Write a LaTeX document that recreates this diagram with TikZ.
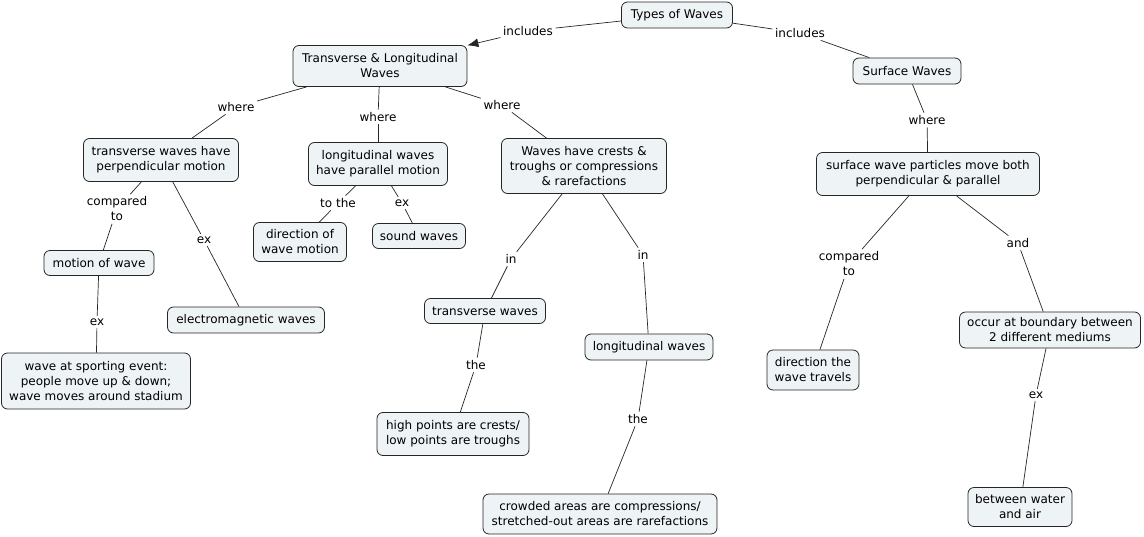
\documentclass[tikz,border=0pt]{standalone}
\usepackage{fontspec}
\setmainfont{DejaVu Sans}
\usetikzlibrary{arrows.meta}
\definecolor{boxfill}{HTML}{EEF3F5}
\begin{document}
\begin{tikzpicture}[x=1pt,y=-1pt,
 box/.style={draw=black!85, fill=boxfill, rounded corners=6pt, align=center, inner sep=0pt, font=\fontsize{12}{15}\selectfont, line width=0.8pt},
 sz/.style 2 args={minimum width=#1pt, minimum height=#2pt},
 lab/.style={inner sep=2.5pt, align=center, font=\fontsize{12}{15}\selectfont},
 conn/.style={draw=black!85, line width=0.7pt}]
\useasboundingbox (0,0) rectangle (1144,536);
% concepts
\node[box, sz={111}{26}] (types) at (677,15) {Types of Waves};
\node[box, sz={174}{41}] (tl) at (380,66) {Transverse \& Longitudinal\\Waves};
\node[box, sz={108}{26}] (surf) at (907,71) {Surface Waves};
\node[box, sz={155}{43}] (tp) at (161,160) {transverse waves have\\perpendicular motion};
\node[box, sz={139}{43}] (lp) at (378,164) {longitudinal waves\\have parallel motion};
\node[box, sz={165}{55}] (crest) at (584,166) {Waves have crests \&\\troughs or compressions\\\& rarefactions};
\node[box, sz={223}{43}] (swp) at (928,174) {surface wave particles move both\\perpendicular \& parallel};
\node[box, sz={110}{25}] (mow) at (99,263) {motion of wave};
\node[box, sz={93}{39}] (dwm) at (300,242) {direction of\\wave motion};
\node[box, sz={93}{25}] (sound) at (419,236) {sound waves};
\node[box, sz={157}{26}] (em) at (246,320) {electromagnetic waves};
\node[box, sz={189}{56}] (sport) at (96,381) {wave at sporting event:\\people move up \& down;\\wave moves around stadium};
\node[box, sz={121}{25}] (tw) at (485,311) {transverse waves};
\node[box, sz={128}{26}] (lw) at (649,347) {longitudinal waves};
\node[box, sz={152}{43}] (high) at (453,434) {high points are crests/\\low points are troughs};
\node[box, sz={234}{40}] (crowd) at (600,514) {crowded areas are compressions/\\stretched-out areas are rarefactions};
\node[box, sz={92}{40}] (dtw) at (813,370) {direction the\\wave travels};
\node[box, sz={181}{36}] (occ) at (1050,330) {occur at boundary between\\2 different mediums};
\node[box, sz={104}{39}] (wa) at (1020,507) {between water\\and air};
% linking phrases
\node[lab] (inc1) at (528,31) {includes};
\node[lab] (inc2) at (800,33) {includes};
\node[lab] (wh1) at (236,107) {where};
\node[lab] (wh2) at (378,117) {where};
\node[lab] (wh3) at (502,105) {where};
\node[lab] (wh4) at (927,120) {where};
\node[lab] (cmp1) at (117,209) {compared\\to};
\node[lab] (ex1) at (204,240) {ex};
\node[lab] (ex2) at (97,322) {ex};
\node[lab] (tothe) at (338,203) {to the};
\node[lab] (ex3) at (402,203) {ex};
\node[lab] (in1) at (511,259) {in};
\node[lab] (in2) at (643,255) {in};
\node[lab] (the1) at (476,365) {the};
\node[lab] (the2) at (638,419) {the};
\node[lab] (cmp2) at (849,264) {compared\\to};
\node[lab] (and) at (1018,243) {and};
\node[lab] (ex4) at (1036,395) {ex};
% connectors
\draw[conn] (types) -- (inc1);
\draw[conn,-{Latex[length=11pt,width=9pt]}] (inc1) -- (tl);
\draw[conn] (types) -- (inc2);
\draw[conn] (inc2) -- (surf);
\draw[conn] (tl) -- (wh1);
\draw[conn] (wh1) -- (tp);
\draw[conn] (tl) -- (wh2);
\draw[conn] (wh2) -- (lp);
\draw[conn] (tl) -- (wh3);
\draw[conn] (wh3) -- (crest);
\draw[conn] (surf) -- (wh4);
\draw[conn] (wh4) -- (swp);
\draw[conn] (tp) -- (cmp1);
\draw[conn] (cmp1) -- (mow);
\draw[conn] (tp) -- (ex1);
\draw[conn] (ex1) -- (em);
\draw[conn] (mow) -- (ex2);
\draw[conn] (ex2) -- (sport);
\draw[conn] (lp) -- (tothe);
\draw[conn] (tothe) -- (dwm);
\draw[conn] (lp) -- (ex3);
\draw[conn] (ex3) -- (sound);
\draw[conn] (crest) -- (in1);
\draw[conn] (in1) -- (tw);
\draw[conn] (crest) -- (in2);
\draw[conn] (in2) -- (lw);
\draw[conn] (tw) -- (the1);
\draw[conn] (the1) -- (high);
\draw[conn] (lw) -- (the2);
\draw[conn] (the2) -- (crowd);
\draw[conn] (swp) -- (cmp2);
\draw[conn] (cmp2) -- (dtw);
\draw[conn] (swp) -- (and);
\draw[conn] (and) -- (occ);
\draw[conn] (occ) -- (ex4);
\draw[conn] (ex4) -- (wa);
\end{tikzpicture}
\end{document}
